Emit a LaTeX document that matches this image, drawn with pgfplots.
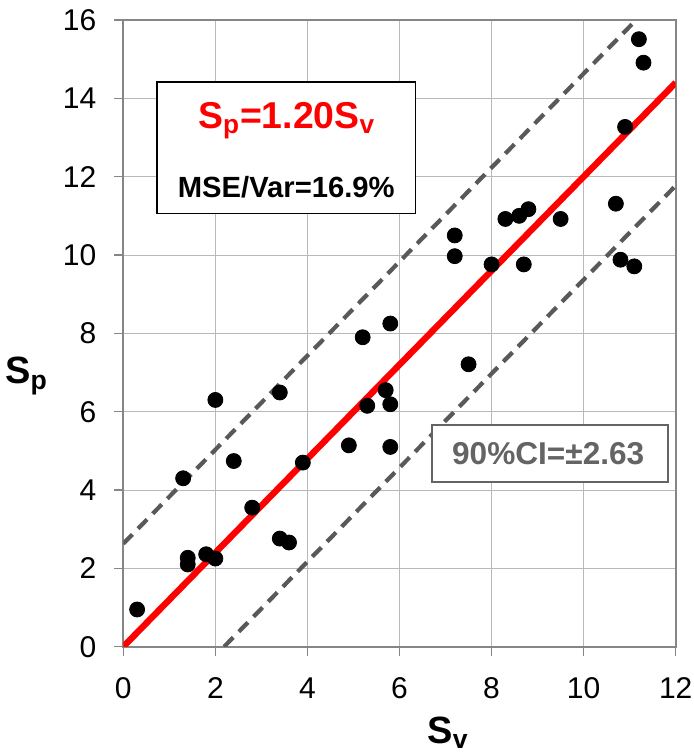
\documentclass[border=0pt]{standalone}
\usepackage{fontspec}
\setmainfont{Liberation Sans}
\usepackage{pgfplots}
\pgfplotsset{compat=1.18}
\definecolor{axgray}{RGB}{134,134,134}
\definecolor{gridgray}{RGB}{185,185,185}
\definecolor{dashgray}{RGB}{89,89,89}
\definecolor{cigray}{RGB}{100,100,100}

\begin{document}
\begin{tikzpicture}
\path[use as bounding box] (-61.65pt,-53.15pt) rectangle (285.35pt,323.35pt);
\begin{axis}[
  at={(0,0)}, anchor=south west,
  scale only axis, width=276.2pt, height=313.35pt,
  xmin=0, xmax=12, ymin=0, ymax=16,
  xtick={0,2,...,12}, ytick={0,2,...,16},
  grid=major, major grid style={gridgray, line width=0.5pt},
  axis line style={axgray, line width=1pt},
  tick align=outside, major tick length=4.5pt,
  tick style={axgray, line width=0.6pt},
  xtick pos=bottom, ytick pos=left,
  ticklabel style={font=\fontsize{15}{18}\selectfont},
  xticklabel style={yshift=-7.5pt},
  yticklabel style={xshift=-5.5pt},
  /pgf/number format/assume math mode=true,
]
% fitted line and 90% band
\addplot[red, line width=3.2pt] coordinates {(0,0) (12,14.4)};
\addplot[dashgray, line width=2.1pt, dash pattern=on 6.5pt off 4pt] coordinates {(0,2.63) (11.14,16)};
\addplot[dashgray, line width=2.1pt, dash pattern=on 6.5pt off 4pt] coordinates {(2.19,0) (12,11.77)};
% data points
\addplot[only marks, mark=*, mark size=3.75pt, black] coordinates {
 (0.3,0.95) (1.3,4.3) (1.4,2.27) (1.4,2.1) (1.8,2.36) (2.0,2.25) (2.0,6.3)
 (2.4,4.74) (2.8,3.55) (3.4,6.49) (3.4,2.76) (3.6,2.66) (3.9,4.7) (4.9,5.14)
 (5.2,7.9) (5.3,6.15) (5.7,6.55) (5.8,6.19) (5.8,5.1) (5.8,8.25)
 (7.2,10.5) (7.2,9.97) (7.5,7.21) (8.0,9.76) (8.3,10.92) (8.6,11.0) (8.8,11.17)
 (8.7,9.76) (9.5,10.92) (10.7,11.31) (10.8,9.88) (11.1,9.71) (10.9,13.27)
 (11.2,15.51) (11.3,14.91)
};
% annotation boxes
\draw[black, line width=0.8pt, fill=white] (axis cs:0.73,11.06) rectangle (axis cs:6.35,14.42);
\node[anchor=base, text=red, font=\bfseries\fontsize{18.7}{22}\selectfont]
  at (axis cs:3.55,13.24) {S\textsubscript{p}=1.20S\textsubscript{v}};
\node[anchor=base, font=\bfseries\fontsize{14.6}{18}\selectfont]
  at (axis cs:3.54,11.48) {MSE/Var=16.9\%};
\draw[cigray, line width=1pt, fill=white] (axis cs:6.70,4.20) rectangle (axis cs:11.83,5.65);
\node[anchor=base, text=cigray, font=\bfseries\fontsize{15.8}{19}\selectfont]
  at (axis cs:9.23,4.64) {90\%CI=±2.63};
\end{axis}
\node[anchor=base, font=\bfseries\fontsize{19}{22}\selectfont] at (-48.4pt,131.35pt) {S\textsubscript{p}};
\node[anchor=base, font=\bfseries\fontsize{19}{22}\selectfont] at (162.35pt,-48.15pt) {S\textsubscript{v}};
\end{tikzpicture}
\end{document}
